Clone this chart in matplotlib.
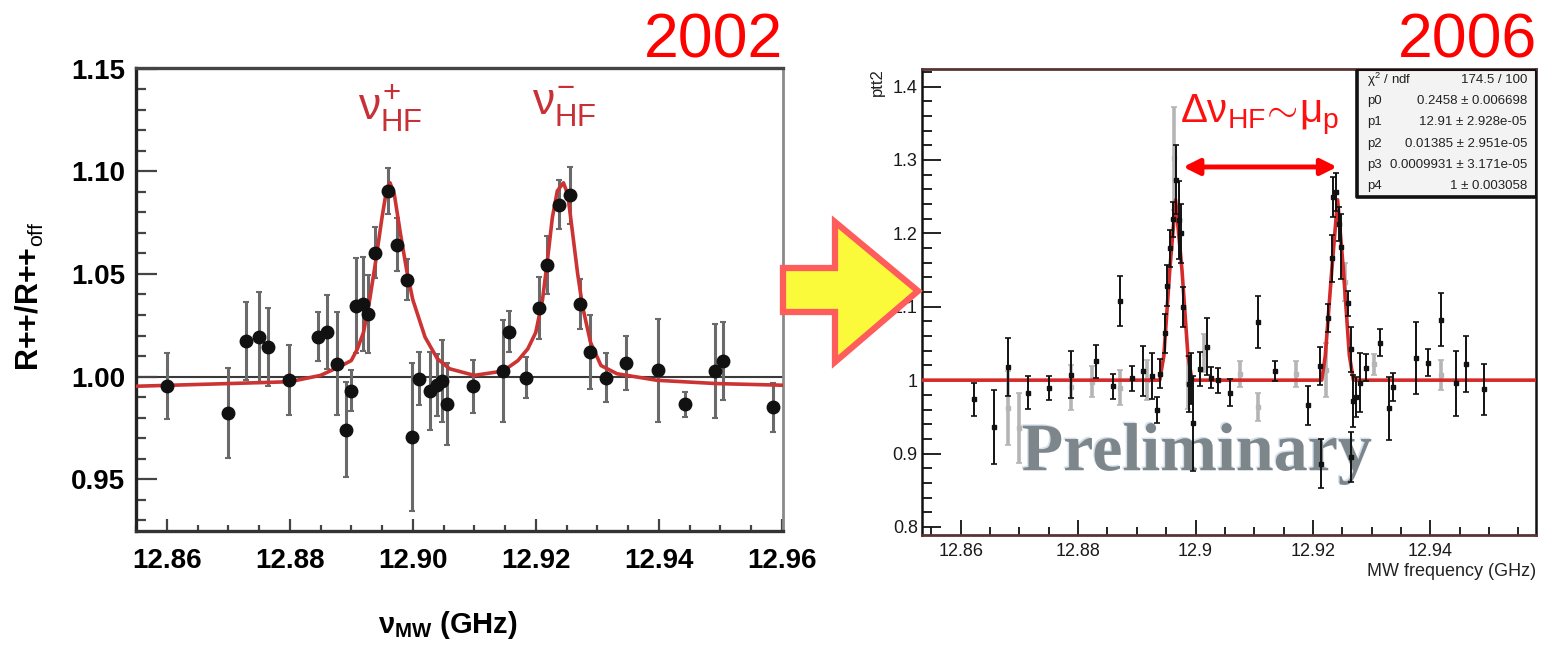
import matplotlib
matplotlib.use('Agg')
from matplotlib import pyplot as plt
from matplotlib.patches import Polygon, Rectangle
from matplotlib.ticker import MultipleLocator, FixedLocator, FuncFormatter
import matplotlib.patheffects as pe

plt.rcParams['font.family'] = ['Liberation Sans', 'DejaVu Sans']
plt.rcParams['mathtext.fontset'] = 'custom'
plt.rcParams['mathtext.rm'] = 'Liberation Sans'
plt.rcParams['mathtext.it'] = 'Liberation Sans'
plt.rcParams['mathtext.bf'] = 'Liberation Sans:bold'

W, H = 1543, 646

# ---- 2002 data (left panel) ----
freq_2002 = [12.8601, 12.8699, 12.8729, 12.8750, 12.8764, 12.8799, 12.8846, 12.8860,
             12.8877, 12.8891, 12.8900, 12.8908, 12.8919, 12.8927, 12.8939, 12.8959,
             12.8975, 12.8990, 12.8998, 12.9010, 12.9028, 12.9039, 12.9047, 12.9056,
             12.9098, 12.9147, 12.9157, 12.9184, 12.9206, 12.9219, 12.9237, 12.9256,
             12.9272, 12.9288, 12.9314, 12.9346, 12.9398, 12.9443, 12.9491, 12.9504,
             12.9586]
ratio_2002 = [0.9953, 0.9822, 1.0175, 1.0191, 1.0143, 0.9982, 1.0194, 1.0218,
              1.0063, 0.9742, 0.9931, 1.0346, 1.0354, 1.0303, 1.0604, 1.0904,
              1.0643, 1.0471, 0.9707, 0.9990, 0.9931, 0.9958, 0.9977, 0.9867,
              0.9953, 1.0027, 1.0218, 0.9994, 1.0335, 1.0543, 1.0837, 1.0883,
              1.0354, 1.0119, 0.9995, 1.0067, 1.0030, 0.9865, 1.0027, 1.0075,
              0.9850]
err_2002 = [0.016, 0.022, 0.019, 0.022, 0.019, 0.017, 0.012, 0.018,
            0.025, 0.023, 0.010, 0.023, 0.023, 0.019, 0.0125, 0.011,
            0.013, 0.010, 0.036, 0.013, 0.019, 0.015, 0.020, 0.020,
            0.013, 0.025, 0.010, 0.010, 0.015, 0.014, 0.012, 0.014,
            0.012, 0.018, 0.012, 0.013, 0.025, 0.006, 0.023, 0.019,
            0.012]

# fit curve
fit_x_2002 = [12.855, 12.870, 12.880, 12.885, 12.888, 12.890, 12.891, 12.892, 12.893,
              12.894, 12.895, 12.8958, 12.8963, 12.897, 12.898, 12.899, 12.900,
              12.902, 12.904, 12.906, 12.910, 12.9147, 12.9171, 12.9187, 12.9200,
              12.9211, 12.9219, 12.9227, 12.9235, 12.9245, 12.9252, 12.9260,
              12.9268, 12.9276, 12.9289, 12.9306, 12.9332, 12.9397, 12.9494, 12.9602]
fit_y_2002 = [0.9953, 0.9966, 0.9975, 1.0006, 1.0047, 1.0078, 1.0135, 1.0216, 1.0375,
              1.0567, 1.0775, 1.0920, 1.0944, 1.0888, 1.0696, 1.0520, 1.0375,
              1.0192, 1.0087, 1.0038, 1.0006, 1.0027, 1.0078, 1.0135, 1.0215,
              1.0375, 1.0567, 1.0775, 1.0904, 1.0944, 1.0888, 1.0696,
              1.0503, 1.0343, 1.0167, 1.0054, 1.0014, 0.9982, 0.9966, 0.9958]

xticks_2002 = [12.86, 12.88, 12.90, 12.92, 12.94, 12.96]
yticks_2002 = [0.95, 1.00, 1.05, 1.10, 1.15]

# ---- 2006 data (right panel) ----
freq_2006 = [12.8623, 12.8657, 12.8680, 12.8715, 12.8751, 12.8788, 12.8831, 12.8859,
             12.8871, 12.8892, 12.8910, 12.8925, 12.8935, 12.8939, 12.8948, 12.8952,
             12.8956, 12.8962, 12.8966, 12.8971, 12.8975, 12.8979, 12.8989, 12.8993,
             12.8995, 12.9007, 12.9020, 12.9026, 12.9038, 12.9058, 12.9106, 12.9135,
             12.9191, 12.9212, 12.9214, 12.9226, 12.9232, 12.9235, 12.9239, 12.9244,
             12.9248, 12.9259, 12.9264, 12.9268, 12.9264, 12.9273, 12.9281, 12.9290,
             12.9314, 12.9330, 12.9336, 12.9376, 12.9396, 12.9419, 12.9443, 12.9460,
             12.9491]
ptt2_2006 = [0.9737, 0.9363, 1.0180, 0.9830, 0.9895, 1.0077, 1.0255, 0.9918,
             1.1075, 1.0023, 1.0130, 1.0057, 0.9590, 1.0090, 1.0636, 1.1285,
             1.1796, 1.2193, 1.2728, 1.2180, 1.2000, 1.1000, 0.9943, 1.0023,
             0.9410, 1.0148, 1.0455, 1.0034, 1.0000, 0.9830, 1.0790, 1.0125,
             0.9655, 1.0193, 0.8864, 1.0841, 1.1660, 1.2500, 1.2568, 1.2125,
             1.1818, 1.1046, 1.0420, 0.9716, 0.8954, 0.9773, 0.9966, 1.0170,
             1.0511, 0.9614, 0.9909, 1.0307, 1.0239, 1.0825, 0.9955, 1.0216,
             0.9875]
err_2006 = [0.022, 0.050, 0.040, 0.022, 0.016, 0.032, 0.022, 0.017,
            0.034, 0.017, 0.034, 0.031, 0.018, 0.020, 0.027, 0.028,
            0.025, 0.024, 0.047, 0.053, 0.040, 0.027, 0.038, 0.035,
            0.065, 0.023, 0.039, 0.014, 0.017, 0.018, 0.035, 0.014,
            0.026, 0.026, 0.034, 0.019, 0.032, 0.027, 0.026, 0.023,
            0.044, 0.017, 0.031, 0.035, 0.034, 0.027, 0.040, 0.018,
            0.018, 0.043, 0.019, 0.049, 0.018, 0.036, 0.044, 0.038,
            0.035]

# lighter (overlaid) bins
freq_2006_b = [12.8680, 12.8699, 12.8788, 12.8823, 12.8871, 12.8917, 12.8964, 12.8987,
               12.9014, 12.9075, 12.9106, 12.9171, 12.9222, 12.9254, 12.9304, 12.9419]
ptt2_2006_b = [0.9620, 0.9350, 0.9900, 0.9980, 0.9898, 1.0004, 1.3024, 0.9966,
               1.0375, 1.0080, 0.9636, 1.0080, 1.0136, 1.1340, 1.0216, 1.0068]
err_2006_b = [0.050, 0.048, 0.030, 0.021, 0.024, 0.027, 0.070, 0.036,
              0.026, 0.018, 0.019, 0.018, 0.037, 0.026, 0.014, 0.020]

fit_x_2006 = [12.8534, 12.8939, 12.8946, 12.8956, 12.8966, 12.8977, 12.8987, 12.8994,
              12.9215, 12.9221, 12.9232, 12.9242, 12.9252, 12.9262, 12.9269, 12.958]
fit_y_2006 = [1.0, 1.0, 1.033, 1.149, 1.2458, 1.149, 1.034, 1.0,
              1.0, 1.033, 1.149, 1.2458, 1.149, 1.034, 1.0, 1.0]

xticks_2006 = [12.86, 12.88, 12.90, 12.92, 12.94]
yticks_2006 = [0.8, 0.9, 1.0, 1.1, 1.2, 1.3, 1.4]

stats_names = [r'$\chi^2$ / ndf', 'p0', 'p1', 'p2', 'p3', 'p4']
stats_values = ['174.5 / 100', '0.2458 \u00b1 0.006698', '12.91 \u00b1 2.928e-05',
                '0.01385 \u00b1 2.951e-05', '0.0009931 \u00b1 3.171e-05', '1 \u00b1 0.003058']


def fig_rect(x0, y0, x1, y1):
    # pixel box (top-left origin) -> figure fraction [l, b, w, h]
    return [x0 / W, 1 - y1 / H, (x1 - x0) / W, (y1 - y0) / H]


fig = plt.figure(figsize=(W / 100, H / 100), dpi=100)

# ================= left panel (2002) =================
ax1 = fig.add_axes(fig_rect(136, 68, 783, 531))
ax1.axhline(1.0, color='#3a3a3a', lw=1.5, zorder=1)
ax1.errorbar(freq_2002, ratio_2002, yerr=err_2002, fmt='none', ecolor='#6a6a6a',
             elinewidth=2.2, capsize=2, capthick=1.5, zorder=2)
ax1.plot(fit_x_2002, fit_y_2002, color='#cc3333', lw=2.6, zorder=3)
ax1.plot(freq_2002, ratio_2002, 'o', color='#111111', ms=9, zorder=4)

ax1.set_xlim(12.855, 12.9602)
ax1.set_ylim(0.9248, 1.1503)
ax1.xaxis.set_major_locator(FixedLocator(xticks_2002))
ax1.xaxis.set_minor_locator(MultipleLocator(0.005))
ax1.yaxis.set_major_locator(FixedLocator(yticks_2002))
ax1.yaxis.set_minor_locator(MultipleLocator(0.01))
ax1.xaxis.set_major_formatter(FuncFormatter(lambda v, p: '%.2f' % v))
ax1.yaxis.set_major_formatter(FuncFormatter(lambda v, p: '%.2f' % v))
ax1.tick_params(axis='both', which='both', direction='in', color='#444444', width=1.6,
                top=False, right=False)
ax1.tick_params(axis='y', which='major', length=15, pad=8)
ax1.tick_params(axis='y', which='minor', length=7)
ax1.tick_params(axis='x', which='major', length=9, pad=12)
ax1.tick_params(axis='x', which='minor', length=4.5)
for lab in ax1.get_xticklabels() + ax1.get_yticklabels():
    lab.set_fontsize(20)
    lab.set_fontweight('bold')
for side, col, lw in [('top', '#444444', 2.4), ('left', '#222222', 2.4),
                      ('bottom', '#333333', 2.4), ('right', '#8a8a8a', 2.0)]:
    ax1.spines[side].set_color(col)
    ax1.spines[side].set_linewidth(lw)

ax1.text(12.8964, 1.1255, r'$\nu^{+}_{\mathrm{HF}}$', color='#c83038', fontsize=32,
         ha='center', va='baseline')
ax1.text(12.9247, 1.1273, r'$\nu^{-}_{\mathrm{HF}}$', color='#c83038', fontsize=32,
         ha='center', va='baseline')

fig.text(30 / W, 1 - 296 / H, r'R++/R++$_{\mathrm{off}}$', rotation=90, fontsize=22,
         fontweight='bold', ha='center', va='center')
fig.text(448 / W, 1 - 625 / H, r'$\mathbf{\nu_{MW}}$ (GHz)', fontsize=21,
         fontweight='bold', ha='center', va='center')
fig.text(783 / W, 1 - 57 / H, '2002', color='#ff0000', fontsize=45, ha='right',
         va='baseline')

# ================= right panel (2006) =================
ax2 = fig.add_axes(fig_rect(922, 69, 1536, 535))
ax2.text(12.9002, 0.8772, 'Preliminary', family='Liberation Serif', fontweight='bold',
         fontsize=49, color='#7d878b', ha='center', va='baseline', zorder=1,
         path_effects=[pe.withSimplePatchShadow(offset=(-1, 1), shadow_rgbFace='#d3e0ec',
                                                alpha=1.0)])
ax2.errorbar(freq_2006_b, ptt2_2006_b, yerr=err_2006_b, fmt='s', color='#b5b5b5',
             ms=2.5, elinewidth=2.6, capsize=2.5, capthick=1.2, zorder=2)
ax2.plot(fit_x_2006, fit_y_2006, color='#d42a2a', lw=2.6, zorder=3)
ax2.errorbar(freq_2006, ptt2_2006, yerr=err_2006, fmt='s', color='#111111',
             ms=2.2, elinewidth=1.4, capsize=2.5, capthick=1.2, zorder=4)

ax2.set_xlim(12.8534, 12.958)
ax2.set_ylim(0.789, 1.424)
ax2.xaxis.set_major_locator(FixedLocator(xticks_2006))
ax2.xaxis.set_minor_locator(MultipleLocator(0.005))
ax2.yaxis.set_major_locator(FixedLocator(yticks_2006))
ax2.yaxis.set_minor_locator(MultipleLocator(0.02))
ax2.xaxis.set_major_formatter(FuncFormatter(lambda v, p: '%g' % round(v, 4)))
ax2.yaxis.set_major_formatter(FuncFormatter(lambda v, p: '%g' % round(v, 4)))
ax2.tick_params(axis='both', which='both', direction='in', color='#111111', width=1.3,
                top=False, right=False, labelsize=13, labelcolor='#1a1a1a')
ax2.tick_params(axis='y', which='major', length=14, pad=3)
ax2.tick_params(axis='y', which='minor', length=7)
ax2.tick_params(axis='x', which='major', length=11, pad=6)
ax2.tick_params(axis='x', which='minor', length=6)
for side, col, lw in [('top', '#5a3434', 2.0), ('left', '#111111', 1.8),
                      ('bottom', '#5a3434', 2.0), ('right', '#111111', 1.8)]:
    ax2.spines[side].set_color(col)
    ax2.spines[side].set_linewidth(lw)

ax2.text(12.9109, 1.3519, r'$\Delta\nu_{\mathrm{HF}}\!\sim\!\mu_{\mathrm{p}}$',
         color='#ff1010', fontsize=29, ha='center', va='baseline', zorder=6)
ax2.annotate('', xy=(12.9241, 1.2905), xytext=(12.8979, 1.2905),
             arrowprops=dict(arrowstyle='<|-|>', color='#ff0000', lw=3.5,
                             mutation_scale=24, shrinkA=0, shrinkB=0), zorder=6)

# stats box
x0b = (1357 - 922) / 614
y0b = (535 - 197) / 466
ax2.add_patch(Rectangle((x0b, y0b), 1 - x0b, 0.998 - y0b, transform=ax2.transAxes,
                        facecolor='#f3f3f3', edgecolor='#111111', lw=1.5, zorder=7))
ax2.plot([x0b, x0b, 1.0], [0.998, y0b, y0b], transform=ax2.transAxes,
         color='#111111', lw=2.6, zorder=8, solid_capstyle='butt')
for i in range(len(stats_names)):
    yrow = (535 - (80 + 21.2 * i)) / 466
    ax2.text((1367 - 922) / 614, yrow, stats_names[i], transform=ax2.transAxes,
             fontsize=9.5, color='#222222', ha='left', va='center', zorder=9)
    ax2.text((1527 - 922) / 614, yrow, stats_values[i], transform=ax2.transAxes,
             fontsize=9.5, color='#222222', ha='right', va='center', zorder=9)

fig.text(877 / W, 1 - 68 / H, 'ptt2', rotation=90, fontsize=12, color='#222222',
         ha='center', va='top')
fig.text(1536 / W, 1 - 571 / H, 'MW frequency (GHz)', fontsize=13, color='#222222',
         ha='right', va='center')
fig.text(1537 / W, 1 - 57 / H, '2006', color='#ff0000', fontsize=45, ha='right',
         va='baseline')

# ================= yellow block arrow between the panels =================
arrow_px = [(783, 268), (835, 268), (835, 222), (918, 291), (835, 362), (835, 312), (783, 312)]
fig.add_artist(Polygon([(x / W, 1 - y / H) for x, y in arrow_px], closed=True,
                       transform=fig.transFigure, facecolor='#fafa3a',
                       edgecolor='#ff5c5c', lw=4.5, joinstyle='miter', zorder=10))

fig.savefig('out.png', dpi=100)
